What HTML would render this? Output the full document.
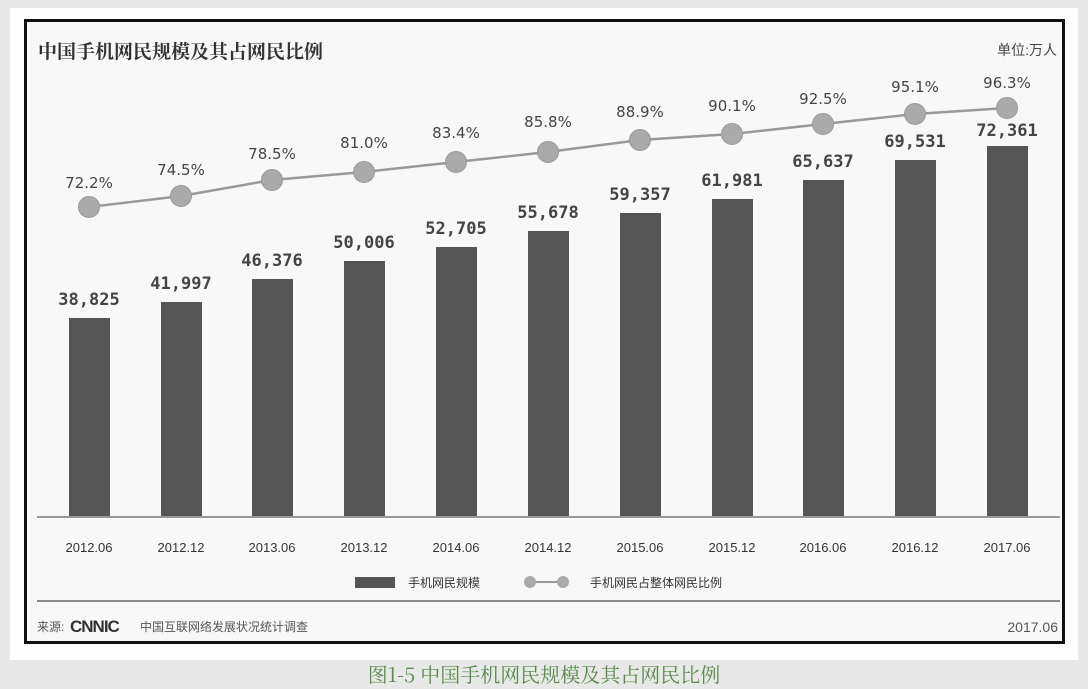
<!DOCTYPE html>
<html><head><meta charset="utf-8"><style>
html,body{margin:0;padding:0;background:#e9e9e9;}
svg{display:block}
</style></head><body>
<svg width="1088" height="689" viewBox="0 0 1088 689" xmlns="http://www.w3.org/2000/svg" font-family="'Liberation Sans','Noto Sans CJK SC',sans-serif">
<rect x="0" y="0" width="1088" height="689" fill="#e8e8e8"/>
<rect x="10" y="8" width="1068" height="652" fill="#fdfdfd"/>
<rect x="25.5" y="20.5" width="1038" height="622" fill="#f8f8f8" stroke="#111" stroke-width="3"/>
<text x="38" y="58" font-size="19" font-weight="bold" fill="#333" font-family="'Noto Serif CJK SC','Noto Sans CJK SC',sans-serif">中国手机网民规模及其占网民比例</text>
<text x="1057" y="55" font-size="14" fill="#444" text-anchor="end">单位:万人</text>
<g fill="#555">
<rect x="69" y="318" width="41" height="199"/>
<rect x="161" y="302" width="41" height="215"/>
<rect x="252" y="279" width="41" height="238"/>
<rect x="344" y="261" width="41" height="256"/>
<rect x="436" y="247" width="41" height="270"/>
<rect x="528" y="231" width="41" height="286"/>
<rect x="620" y="213" width="41" height="304"/>
<rect x="712" y="199" width="41" height="318"/>
<rect x="803" y="180" width="41" height="337"/>
<rect x="895" y="160" width="41" height="357"/>
<rect x="987" y="146" width="41" height="371"/>
</g>
<g font-family="'DejaVu Sans Mono',monospace" font-weight="bold" font-size="17" fill="#444" text-anchor="middle">
<text x="89" y="305">38,825</text>
<text x="181" y="289">41,997</text>
<text x="272" y="266">46,376</text>
<text x="364" y="248">50,006</text>
<text x="456" y="234">52,705</text>
<text x="548" y="218">55,678</text>
<text x="640" y="200">59,357</text>
<text x="732" y="186">61,981</text>
<text x="823" y="167">65,637</text>
<text x="915" y="147">69,531</text>
<text x="1007" y="136">72,361</text>
</g>
<polyline fill="none" stroke="#999" stroke-width="2.5" points="89,207 181,196 272,180 364,172 456,162 548,152 640,140 732,134 823,124 915,114 1007,108"/>
<g fill="#aaa" stroke="#999" stroke-width="1">
<circle cx="89" cy="207" r="10.5"/><circle cx="181" cy="196" r="10.5"/><circle cx="272" cy="180" r="10.5"/><circle cx="364" cy="172" r="10.5"/><circle cx="456" cy="162" r="10.5"/><circle cx="548" cy="152" r="10.5"/><circle cx="640" cy="140" r="10.5"/><circle cx="732" cy="134" r="10.5"/><circle cx="823" cy="124" r="10.5"/><circle cx="915" cy="114" r="10.5"/><circle cx="1007" cy="108" r="10.5"/>
</g>
<g font-size="15" fill="#444" text-anchor="middle" font-family="'DejaVu Sans',sans-serif">
<text x="89" y="188">72.2%</text>
<text x="181" y="175">74.5%</text>
<text x="272" y="159">78.5%</text>
<text x="364" y="148">81.0%</text>
<text x="456" y="138">83.4%</text>
<text x="548" y="127">85.8%</text>
<text x="640" y="117">88.9%</text>
<text x="732" y="111">90.1%</text>
<text x="823" y="104">92.5%</text>
<text x="915" y="92">95.1%</text>
<text x="1007" y="88">96.3%</text>
</g>
<line x1="37" y1="517" x2="1060" y2="517" stroke="#999" stroke-width="2"/>
<g font-size="13" fill="#333" text-anchor="middle" font-family="'Liberation Sans Narrow','Liberation Sans',sans-serif">
<text x="89" y="552">2012.06</text><text x="181" y="552">2012.12</text><text x="272" y="552">2013.06</text><text x="364" y="552">2013.12</text><text x="456" y="552">2014.06</text><text x="548" y="552">2014.12</text><text x="640" y="552">2015.06</text><text x="732" y="552">2015.12</text><text x="823" y="552">2016.06</text><text x="915" y="552">2016.12</text><text x="1007" y="552">2017.06</text>
</g>
<rect x="355" y="577" width="40" height="11" fill="#555"/>
<text x="408" y="587" font-size="12" fill="#333">手机网民规模</text>
<line x1="530" y1="582" x2="563" y2="582" stroke="#999" stroke-width="2"/>
<circle cx="530" cy="582" r="6" fill="#aaa"/><circle cx="563" cy="582" r="6" fill="#aaa"/>
<text x="590" y="587" font-size="12" fill="#333">手机网民占整体网民比例</text>
<line x1="37" y1="601" x2="1060" y2="601" stroke="#666" stroke-width="1.5"/>
<text x="37" y="631" font-size="12" fill="#555">来源:</text>
<text x="70" y="632" font-size="17" font-weight="bold" fill="#333" letter-spacing="-1">CNNIC</text>
<text x="140" y="631" font-size="12" fill="#555">中国互联网络发展状况统计调查</text>
<text x="1058" y="632" font-size="14" fill="#555" text-anchor="end">2017.06</text>
<text x="544" y="682" font-size="20" fill="#5a8a4a" text-anchor="middle" font-family="'Noto Serif CJK SC','Liberation Serif',serif">图1-5 中国手机网民规模及其占网民比例</text>
</svg>
</body></html>
